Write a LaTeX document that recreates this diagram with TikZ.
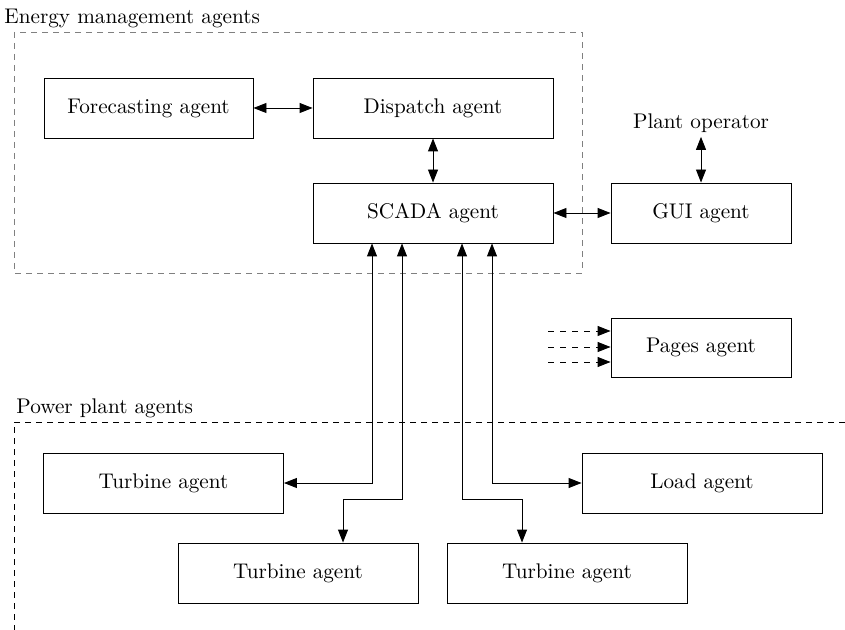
\documentclass[tikz,border=0pt]{standalone}
\usetikzlibrary{arrows.meta,calc}
\begin{document}
\begin{tikzpicture}[x=0.5pt,y=-0.5pt,
  every node/.style={font=\fontsize{10.6}{13}\selectfont},
  agent/.style={draw, rectangle, minimum width=120pt, minimum height=30pt, inner sep=0pt},
  tip/.style={-{Triangle[length=6.5pt,width=5pt]}},
  bitip/.style={{Triangle[length=6.5pt,width=5pt]}-{Triangle[length=6.5pt,width=5pt]}},
  group/.style={dashed, dash pattern=on 3pt off 2.5pt},
  line width=0.45pt]
\useasboundingbox (0,0) rectangle (845,630);
% groups
\draw[group, gray] (14,32) rectangle (582,273);
\node[anchor=base west, inner sep=0pt] (emlabel) at (4,24) {Energy management agents};
\draw[group] (845,422) -- (14,422) -- (14,630);
\node[anchor=base west, inner sep=0pt] (pplabel) at (16,413) {Power plant agents};
% nodes
\node[agent, minimum width=104.5pt] (fc) at (148.5,108) {Forecasting agent};
\node[agent] (dp) at (433,108) {Dispatch agent};
\node[agent] (sc) at (433,213) {SCADA agent};
\node[agent, minimum width=90pt] (gui) at (701,213) {GUI agent};
\node[inner sep=2pt] (po) at (701,123) {Plant operator};
\node[agent, minimum width=90pt, minimum height=29.5pt] (pg) at (701,347.5) {Pages agent};
\node[agent] (t1) at (163.5,483) {Turbine agent};
\node[agent] (ld) at (702,483) {Load agent};
\node[agent] (t2) at (298,573) {Turbine agent};
\node[agent] (t3) at (567,573) {Turbine agent};
% connectors
\draw[bitip] (fc) -- (dp);
\draw[bitip] (dp) -- (sc);
\draw[bitip] (sc) -- (gui);
\draw[bitip] (po.south) -- (gui.north);
\coordinate (p1) at (372,483);
\coordinate (p2) at (402,499);
\coordinate (q2) at (343,499);
\coordinate (p3) at (462,499);
\coordinate (q3) at (522,499);
\coordinate (p4) at (492,483);
\draw[bitip] (sc.south -| p1) |- (t1.east);
\draw[bitip] (sc.south -| p2) -- (p2) -- (q2) -- (t2.north -| q2);
\draw[bitip] (sc.south -| p3) -- (p3) -- (q3) -- (t3.north -| q3);
\draw[bitip] (sc.south -| p4) |- (ld.west);
\coordinate (d1) at (548,331);
\coordinate (d2) at (548,347);
\coordinate (d3) at (548,362);
\draw[tip, dashed] (d1) -- (d1 -| pg.west);
\draw[tip, dashed] (d2) -- (d2 -| pg.west);
\draw[tip, dashed] (d3) -- (d3 -| pg.west);
\end{tikzpicture}
\end{document}
